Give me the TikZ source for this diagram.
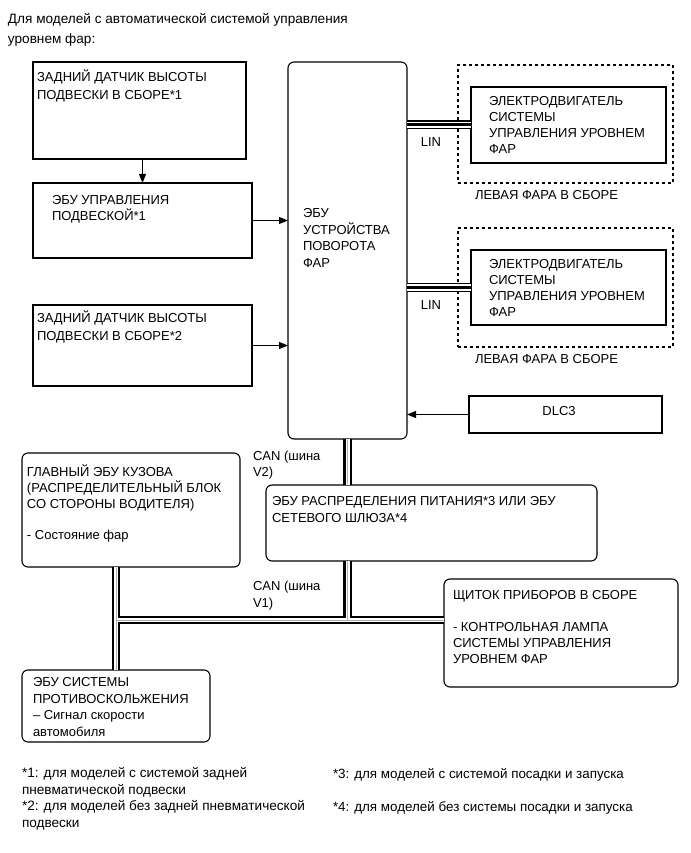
\documentclass[tikz,border=0pt]{standalone}
\usepackage{fontspec}
\setmainfont{Liberation Sans}
\usetikzlibrary{arrows.meta, positioning, calc}

\begin{document}
\begin{tikzpicture}[x=1pt, y=-1pt, >={Stealth[length=9pt,width=7pt,inset=0pt]},
    every node/.style={font=\fontsize{13}{16}\selectfont, inner sep=0pt, outer sep=0pt},
    blk/.style={draw, line width=1.1pt, anchor=north west},
    rblk/.style={blk, rounded corners=6pt},
    dbox/.style={draw, line width=1.1pt, dash pattern=on 3pt off 3pt, anchor=north west},
    txt/.style={anchor=north west, yshift=12.5pt, align=left, execute at begin node={\rule{0pt}{12.5pt}}},
    sig/.style={->, line width=1.1pt}]
    \useasboundingbox (0,0) rectangle (690,853);

    % Title
    \node (title) [txt, font=\fontsize{13.6}{20}\selectfont] at (8,26)
        {Для моделей с автоматической системой управления\\уровнем фар:};

    % Left column
    \node (rsh1) [blk, minimum width=213, minimum height=97] at (33,62) {};
    \node (rsh1t) [txt, font=\fontsize{13}{18.5}\selectfont] at (37,82) {ЗАДНИЙ ДАТЧИК ВЫСОТЫ\\ПОДВЕСКИ В СБОРЕ*1};

    \node (susp) [blk, minimum width=219, minimum height=75] at (33,183) {};
    \node (suspt) [txt] at (52,208) {ЭБУ УПРАВЛЕНИЯ\\ПОДВЕСКОЙ*1};

    \node (rsh2) [blk, minimum width=219, minimum height=81] at (33,305) {};
    \node (rsh2t) [txt, font=\fontsize{13}{18}\selectfont] at (37,323) {ЗАДНИЙ ДАТЧИК ВЫСОТЫ\\ПОДВЕСКИ В СБОРЕ*2};

    % Swivel ECU
    \node (swv) [rblk, minimum width=119, minimum height=377] at (288,62) {};
    \node (swvt) [txt, font=\fontsize{13}{16.5}\selectfont] at (303,221) {ЭБУ\\УСТРОЙСТВА\\ПОВОРОТА\\ФАР};

    % Headlamps
    \node (lamp1) [dbox, minimum width=215, minimum height=118] at (458,65) {};
    \node (mot1) [blk, fill=white, minimum width=195, minimum height=76] at (471,87) {};
    \node (mot1t) [txt] at (489,109) {ЭЛЕКТРОДВИГАТЕЛЬ\\СИСТЕМЫ\\УПРАВЛЕНИЯ УРОВНЕМ\\ФАР};
    \node (lamp1l) [txt] at (475,199) {ЛЕВАЯ ФАРА В СБОРЕ};
    \node (lin1) [anchor=base] at (431,147) {LIN};

    \node (lamp2) [dbox, minimum width=215, minimum height=119] at (458,228) {};
    \node (mot2) [blk, fill=white, minimum width=195, minimum height=75] at (471,250) {};
    \node (mot2t) [txt] at (489,272) {ЭЛЕКТРОДВИГАТЕЛЬ\\СИСТЕМЫ\\УПРАВЛЕНИЯ УРОВНЕМ\\ФАР};
    \node (lamp2l) [txt] at (475,363) {ЛЕВАЯ ФАРА В СБОРЕ};
    \node (lin2) [anchor=base] at (431,309) {LIN};

    \node (dlc) [blk, minimum width=193, minimum height=37] at (469,396) {};
    \node (dlct) [anchor=base] at (559,415) {DLC3};

    % CAN part
    \node (gw) [rblk, minimum width=331, minimum height=76] at (266,485) {};
    \node (gwt) [txt, font=\fontsize{13}{16.5}\selectfont] at (272,509) {ЭБУ РАСПРЕДЕЛЕНИЯ ПИТАНИЯ*3 ИЛИ ЭБУ\\СЕТЕВОГО ШЛЮЗА*4};
    \node (can2) [txt] at (253,464) {CAN (шина\\V2)};

    \node (bcm) [rblk, minimum width=218, minimum height=114] at (22,453) {};
    \node (bcmt) [txt] at (27,477) {ГЛАВНЫЙ ЭБУ КУЗОВА\\(РАСПРЕДЕЛИТЕЛЬНЫЙ БЛОК\\СО СТОРОНЫ ВОДИТЕЛЯ)\\[15pt]- Состояние фар};

    \node (ipc) [rblk, minimum width=234, minimum height=108] at (444,579) {};
    \node (ipct) [txt] at (453,603) {ЩИТОК ПРИБОРОВ В СБОРЕ\\[16pt]- КОНТРОЛЬНАЯ ЛАМПА\\СИСТЕМЫ УПРАВЛЕНИЯ\\УРОВНЕМ ФАР};
    \node (can1) [txt, font=\fontsize{13}{16.5}\selectfont] at (253,594) {CAN (шина\\V1)};

    \node (abs) [rblk, minimum width=188, minimum height=72] at (22,670) {};
    \node (abst) [txt, font=\fontsize{13}{16.5}\selectfont] at (33,690) {ЭБУ СИСТЕМЫ\\ПРОТИВОСКОЛЬЖЕНИЯ\\– Сигнал скорости\\автомобиля};

    % Notes
    \node (note12) [txt, font=\fontsize{13.6}{16.5}\selectfont] at (22,780)
        {*1: для моделей с системой задней\\пневматической подвески\\*2: для моделей без задней пневматической\\подвески};
    \node (note3) [txt, font=\fontsize{13.4}{16.5}\selectfont] at (333,778) {*3: для моделей с системой посадки и запуска};
    \node (note4) [txt, font=\fontsize{13.4}{16.5}\selectfont] at (333,811) {*4: для моделей без системы посадки и запуска};

    % Arrows
    \draw [sig] (susp.north |- rsh1.south) -- (susp.north);
    \draw [sig] (susp.east) -- (susp.east -| swv.west);
    \draw [sig] (rsh2.east) -- (rsh2.east -| swv.west);
    \draw [sig] (dlc.west) -- (dlc.west -| swv.east);

    % LIN lines
    \foreach \clr/\wd in {black/9pt, white/6.4pt, black/3pt} {
        \draw [\clr, line width=\wd] (mot1.west -| swv.east) -- (mot1.west);
        \draw [\clr, line width=\wd] (mot2.west -| swv.east) -- (mot2.west);
    }

    % CAN buses
    \coordinate (busL) at (116,620);
    \foreach \clr/\wd in {black/8.5pt, white/4pt, gray!60/0.6pt} {
        \draw [\clr, line width=\wd] (swv.south) -- (swv.south |- gw.north);
        \draw [\clr, line width=\wd] (bcm.south -| abs.north) -- (abs.north);
        \draw [\clr, line width=\wd] (busL) -- (busL -| ipc.west);
        \draw [\clr, line width=\wd] (swv.south |- gw.south) -- (swv.south |- busL);
    }
\end{tikzpicture}
\end{document}
